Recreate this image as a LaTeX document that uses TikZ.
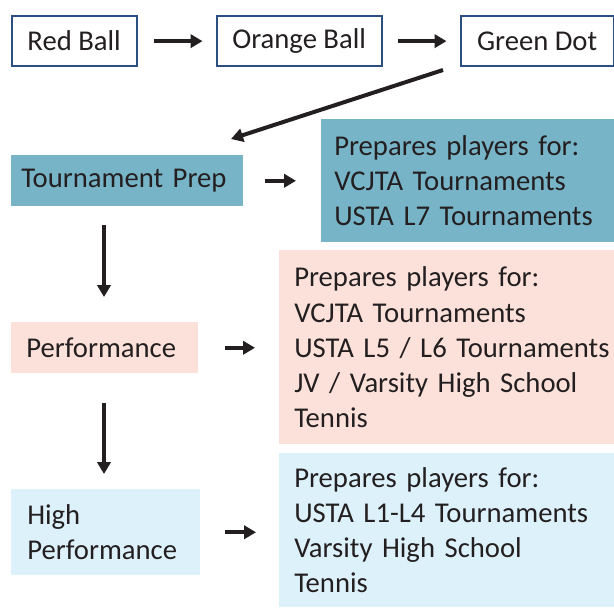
\documentclass[tikz,border=0pt]{standalone}
\usepackage{fontspec}
\setmainfont{Carlito}
\usetikzlibrary{arrows.meta}
\definecolor{txt}{HTML}{231F20}
\definecolor{bord}{HTML}{2B4F81}
\definecolor{teal}{HTML}{77B4C7}
\definecolor{pinkbg}{HTML}{FCE1DB}
\definecolor{bluebg}{HTML}{DDF1FA}
\newcommand\px{0.75pt}
\hyphenpenalty=10000
\tikzset{
  lbl/.style={font=\fontsize{21.5}{26.3}\selectfont, text=txt},
  topbox/.style={lbl, draw=bord, line width=1.7pt, fill=white, inner sep=0pt, anchor=north west},
  fbox/.style={lbl, inner sep=0pt, anchor=north west, align=left},
  arr/.style={draw=txt, line width=3pt, -{Triangle[length=9pt,width=10pt]}},
}
\begin{document}
\begin{tikzpicture}[x=0.75pt,y=-0.75pt]
\useasboundingbox (0,0) rectangle (614,607);
% top row
\node[topbox, minimum width=125*\px, minimum height=50*\px] (rb) at (10.5,15) {Red Ball};
\node[topbox, minimum width=165*\px, minimum height=50*\px] (ob) at (215.5,15) {Orange Ball};
\node[topbox, minimum width=153*\px, minimum height=50*\px] (gd) at (459.5,15) {Green Dot};
\draw[arr, shorten <=16*\px, shorten >=13*\px] (rb.east) -- (ob.west);
\draw[arr, shorten <=15*\px, shorten >=13*\px] (ob.east) -- (gd.west);
% diagonal
\coordinate (d1) at (443,70);
\coordinate (d2) at (231,139);
\draw[arr] (d1) -- (d2);
% Tournament Prep row
\node[fbox, fill=teal, minimum width=232*\px, minimum height=51*\px, inner xsep=10*\px, text width=212*\px] (tp) at (11,155) {Tournament Prep};
\node[fbox, fill=teal, minimum width=293*\px, minimum height=123*\px, inner xsep=13*\px, text width=290*\px] (tpr) at (321,119) {Prepares players for:\\VCJTA Tournaments\\USTA L7 Tournaments};
\draw[arr, shorten <=21*\px, shorten >=25*\px] (tp.east) -- (tp.east -| tpr.west);
% vertical 1
\coordinate (v1a) at (104,225);
\coordinate (v1b) at (104,297);
\draw[arr] (v1a) -- (v1b);
% Performance row
\node[fbox, fill=pinkbg, minimum width=187*\px, minimum height=51*\px, inner xsep=15*\px, text width=157*\px] (pf) at (11,322) {Performance};
\node[fbox, fill=pinkbg, minimum width=335*\px, minimum height=194*\px, inner xsep=15*\px, text width=330*\px] (pfr) at (279,250) {Prepares players for:\\VCJTA Tournaments\\USTA L5 / L6 Tournaments\\JV / Varsity High School\\Tennis};
\draw[arr, shorten <=26*\px, shorten >=24*\px] (pf.east) -- (pf.east -| pfr.west);
% vertical 2
\coordinate (v2a) at (104,403);
\coordinate (v2b) at (104,474);
\draw[arr] (v2a) -- (v2b);
% High Performance row
\node[fbox, fill=bluebg, minimum width=189*\px, minimum height=86*\px, inner xsep=16*\px, text width=157*\px] (hp) at (11,489) {High\\Performance};
\node[fbox, fill=bluebg, minimum width=335*\px, minimum height=154*\px, inner xsep=15*\px, text width=330*\px] (hpr) at (279,453) {Prepares players for:\\USTA L1-L4 Tournaments\\Varsity High School\\Tennis};
\draw[arr, shorten <=24*\px, shorten >=23*\px] (hp.east) -- (hp.east -| hpr.west);
\end{tikzpicture}
\end{document}
